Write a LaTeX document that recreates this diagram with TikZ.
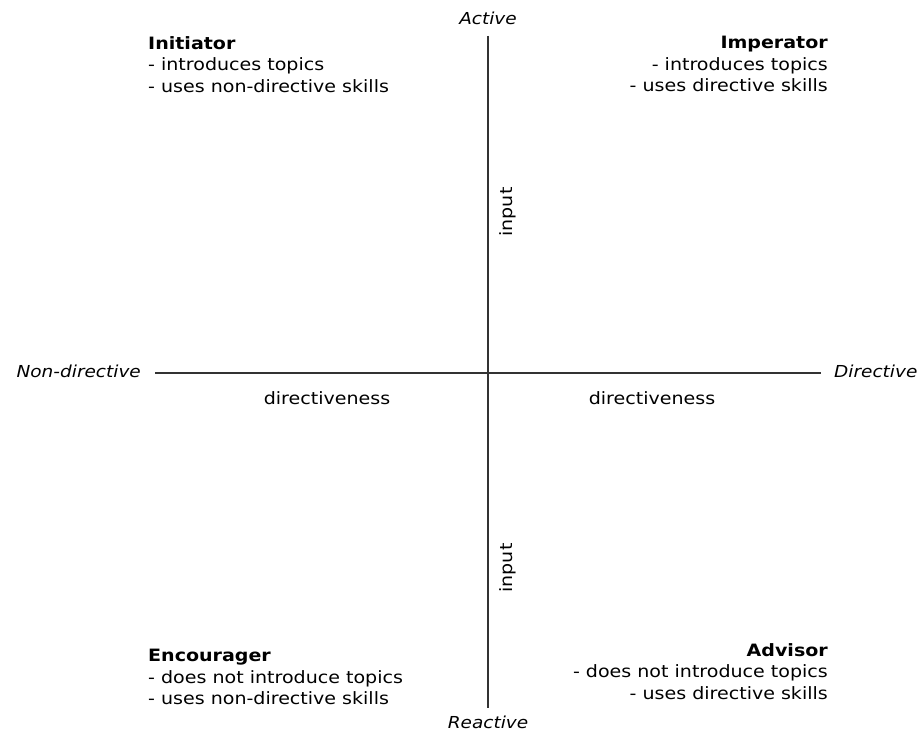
\documentclass[tikz,border=0pt]{standalone}
\usepackage{fontspec}
\setmainfont{DejaVu Sans}[FakeStretch=1.12]

\begin{document}
\begin{tikzpicture}[x=1pt,y=1pt,
  axisend/.style={font=\fontsize{16.5}{20}\selectfont\itshape,inner sep=0pt},
  axisname/.style={font=\fontsize{17}{20}\selectfont,inner sep=0pt},
  rolebox/.style={font=\fontsize{17}{21.5}\selectfont,inner sep=0pt},
  axisline/.style={draw=black!80,line width=1.1pt}]
\definecolor[named]{fillColor}{rgb}{1.00,1.00,1.00}
\path[use as bounding box,fill=fillColor] (0,0) rectangle (920,733);

% axis ends
\node[axisend] (active) at (488,715) {Active};
\node[axisend] (reactive) at (488,11) {Reactive};
\node[axisend,anchor=east] (nondir) at (141,362) {Non-directive};
\node[axisend,anchor=west] (dir) at (834,362) {Directive};

\coordinate (ytop) at (488,697);
\coordinate (ybot) at (488,25);
\coordinate (xleft) at (155,360);
\coordinate (xright) at (821,360);

\path[axisline] (ytop) -- (ybot);
\path[axisline] (xleft) -- (xright);

% axis names
\node[axisname] (dirleft) at (327,335) {directiveness};
\node[axisname] (dirright) at (652,335) {directiveness};
\node[axisname,rotate=90] (inputtop) at (508,521) {input};
\node[axisname,rotate=90] (inputbot) at (508,165) {input};

% roles
\node[rolebox,anchor=north west,align=left] (initiator) at (148,697)
  {\textbf{Initiator}\\- introduces topics\\- uses non-directive skills};
\node[rolebox,anchor=north east,align=right] (imperator) at (828,697)
  {\textbf{Imperator}\\- introduces topics\\- uses directive skills};
\node[rolebox,anchor=north west,align=left] (encourager) at (148,84)
  {\textbf{Encourager}\\- does not introduce topics\\- uses non-directive skills};
\node[rolebox,anchor=north east,align=right] (advisor) at (828,90)
  {\textbf{Advisor}\\- does not introduce topics\\- uses directive skills};
\end{tikzpicture}
\end{document}
